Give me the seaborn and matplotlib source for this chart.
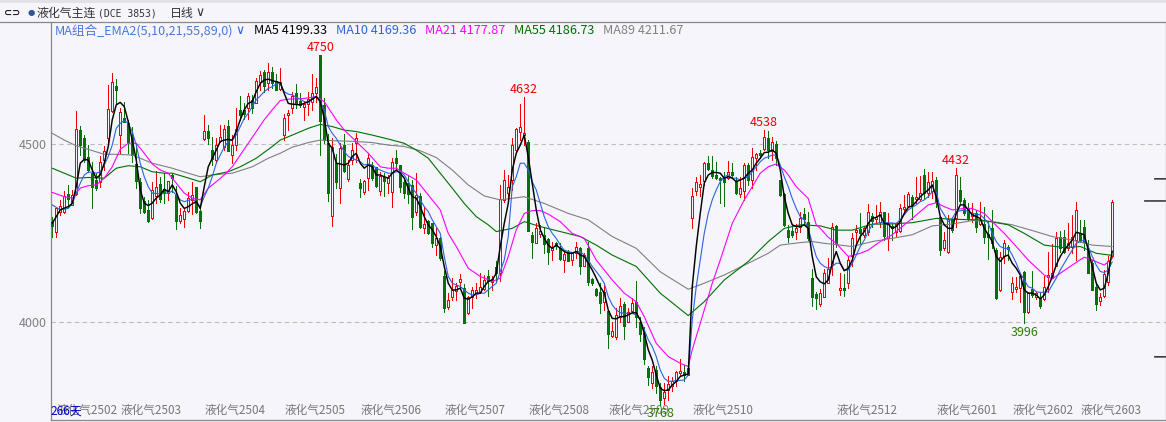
import matplotlib
matplotlib.use("Agg")
import matplotlib.pyplot as plt
import numpy as np
import seaborn as sns
from matplotlib.lines import Line2D
from matplotlib.patches import Rectangle

opens = [
    4282, 4252, 4310, 4310, 4359, 4329, 4359, 4539, 4516, 4463,
    4418, 4399, 4392, 4455, 4518, 4594, 4663, 4525, 4572, 4558,
    4525, 4444, 4392, 4340, 4315, 4291, 4354, 4387, 4373, 4363,
    4413, 4357, 4285, 4289, 4313, 4343, 4378, 4312, 4514, 4537,
    4483, 4455, 4509, 4491, 4551, 4469, 4497, 4596, 4596, 4600,
    4624, 4616, 4675, 4703, 4670, 4703, 4678, 4654, 4525, 4581,
    4600, 4642, 4622, 4603, 4612, 4619, 4642, 4750, 4610, 4502,
    4299, 4446, 4376, 4497, 4401, 4455, 4504, 4390, 4366, 4404,
    4441, 4434, 4369, 4408, 4390, 4366, 4460, 4441, 4392, 4390,
    4385, 4310, 4354, 4263, 4285, 4277, 4216, 4237, 4128, 4043,
    4070, 4088, 4111, 4095, 4025, 4070, 4081, 4085, 4092, 4129,
    4112, 4154, 4137, 4343, 4363, 4399, 4483, 4535, 4525, 4507,
    4244, 4223, 4247, 4244, 4232, 4202, 4221, 4207, 4174, 4198,
    4174, 4193, 4207, 4157, 4207, 4121, 4093, 4085, 4057, 4031,
    3961, 3959, 4015, 4051, 4001, 4032, 4057, 4001, 3968, 3870,
    3828, 3865, 3818, 3786, 3809, 3819, 3833, 3856, 3859, 3870,
    4293, 4369, 4380, 4397, 4448, 4427, 4413, 4405, 4404, 4404,
    4422, 4397, 4360, 4369, 4441, 4399, 4460, 4476, 4485, 4516,
    4479, 4500, 4399, 4359, 4258, 4257, 4254, 4268, 4302, 4280,
    4123, 4078, 4051, 4071, 4109, 4160, 4270, 4090, 4095, 4109,
    4184, 4254, 4260, 4245, 4254, 4299, 4289, 4282, 4308, 4235,
    4270, 4254, 4256, 4317, 4327, 4350, 4345, 4345, 4413, 4362,
    4369, 4399, 4294, 4209, 4198, 4288, 4291, 4371, 4343, 4319,
    4298, 4305, 4275, 4275, 4246, 4263, 4202, 4090, 4184, 4210,
    4083, 4093, 4095, 4141, 4027, 4092, 4071, 4067, 4064, 4126,
    4123, 4158, 4240, 4240, 4207, 4212, 4230, 4249, 4268, 4202,
    4165, 4098, 4059, 4073, 4113, 4185,
]
highs = [
    4296, 4320, 4343, 4368, 4385, 4371, 4593, 4551, 4525, 4497,
    4450, 4418, 4465, 4493, 4666, 4699, 4682, 4600, 4619, 4567,
    4549, 4502, 4404, 4352, 4343, 4394, 4425, 4408, 4418, 4397,
    4418, 4382, 4319, 4319, 4366, 4394, 4380, 4324, 4582, 4553,
    4519, 4516, 4552, 4553, 4568, 4525, 4600, 4635, 4614, 4642,
    4638, 4684, 4706, 4708, 4727, 4717, 4697, 4713, 4584, 4596,
    4645, 4669, 4642, 4622, 4645, 4697, 4684, 4750, 4628, 4528,
    4516, 4471, 4502, 4528, 4455, 4504, 4530, 4401, 4399, 4471,
    4450, 4436, 4422, 4418, 4413, 4460, 4483, 4441, 4399, 4413,
    4399, 4418, 4362, 4324, 4287, 4277, 4263, 4240, 4142, 4081,
    4123, 4109, 4134, 4107, 4073, 4099, 4109, 4137, 4132, 4146,
    4128, 4170, 4385, 4427, 4413, 4516, 4545, 4612, 4632, 4510,
    4254, 4277, 4272, 4266, 4235, 4226, 4226, 4221, 4198, 4201,
    4198, 4226, 4212, 4193, 4226, 4123, 4095, 4109, 4109, 4034,
    4001, 4039, 4067, 4057, 4039, 4067, 4115, 4015, 3987, 3877,
    3877, 3875, 3828, 3828, 3847, 3845, 3861, 3896, 3879, 3879,
    4376, 4408, 4413, 4450, 4465, 4466, 4450, 4408, 4422, 4453,
    4446, 4408, 4406, 4448, 4448, 4488, 4476, 4482, 4538, 4536,
    4521, 4509, 4399, 4361, 4272, 4272, 4275, 4310, 4319, 4310,
    4148, 4085, 4092, 4148, 4179, 4277, 4273, 4137, 4135, 4184,
    4249, 4273, 4305, 4268, 4332, 4305, 4329, 4338, 4308, 4305,
    4277, 4275, 4332, 4357, 4366, 4357, 4408, 4410, 4429, 4420,
    4422, 4406, 4296, 4254, 4301, 4291, 4432, 4408, 4349, 4333,
    4333, 4315, 4338, 4322, 4282, 4315, 4207, 4198, 4230, 4216,
    4126, 4126, 4128, 4144, 4085, 4144, 4085, 4085, 4128, 4198,
    4219, 4254, 4256, 4258, 4277, 4301, 4338, 4287, 4287, 4230,
    4174, 4111, 4081, 4146, 4184, 4344,
]
lows = [
    4238, 4240, 4301, 4305, 4324, 4329, 4357, 4469, 4450, 4422,
    4319, 4371, 4380, 4427, 4493, 4591, 4614, 4474, 4563, 4474,
    4450, 4376, 4305, 4305, 4282, 4289, 4334, 4338, 4334, 4343,
    4366, 4260, 4277, 4268, 4310, 4304, 4305, 4265, 4511, 4499,
    4441, 4446, 4507, 4483, 4479, 4446, 4483, 4568, 4569, 4569,
    4586, 4614, 4652, 4647, 4652, 4656, 4652, 4652, 4511, 4539,
    4586, 4600, 4605, 4568, 4582, 4596, 4619, 4469, 4502, 4341,
    4271, 4376, 4335, 4420, 4397, 4444, 4450, 4352, 4360, 4371,
    4399, 4380, 4357, 4354, 4362, 4324, 4427, 4366, 4348, 4334,
    4260, 4301, 4265, 4251, 4246, 4212, 4188, 4174, 4029, 4037,
    4062, 4062, 4095, 3998, 4023, 4039, 4067, 4081, 4090, 4073,
    4090, 4111, 4114, 4338, 4334, 4372, 4474, 4510, 4497, 4256,
    4179, 4221, 4240, 4193, 4163, 4174, 4206, 4174, 4141, 4170,
    4160, 4179, 4135, 4156, 4104, 4104, 4074, 4026, 4034, 3928,
    3959, 3952, 4001, 3952, 3999, 4029, 3987, 3947, 3882, 3823,
    3814, 3800, 3768, 3770, 3781, 3805, 3820, 3847, 3835, 3851,
    4265, 4357, 4354, 4385, 4427, 4404, 4401, 4333, 4327, 4401,
    4408, 4360, 4352, 4343, 4385, 4375, 4427, 4460, 4483, 4460,
    4455, 4441, 4355, 4270, 4224, 4238, 4232, 4254, 4273, 4230,
    4046, 4037, 4046, 4071, 4109, 4132, 4212, 4076, 4074, 4095,
    4156, 4226, 4221, 4240, 4245, 4268, 4277, 4268, 4230, 4202,
    4230, 4240, 4254, 4310, 4324, 4288, 4333, 4343, 4347, 4352,
    4347, 4324, 4188, 4202, 4195, 4254, 4268, 4333, 4301, 4287,
    4282, 4254, 4273, 4221, 4176, 4207, 4065, 4088, 4165, 4174,
    4065, 4085, 4057, 3996, 4024, 4071, 4066, 4039, 4062, 4085,
    4123, 4156, 4198, 4195, 4202, 4193, 4174, 4226, 4202, 4137,
    4090, 4034, 4048, 4071, 4104, 4183,
]
closes = [
    4271, 4320, 4326, 4354, 4345, 4357, 4541, 4497, 4455, 4427,
    4378, 4376, 4450, 4479, 4597, 4675, 4652, 4589, 4563, 4507,
    4469, 4397, 4319, 4308, 4285, 4371, 4380, 4346, 4362, 4396,
    4404, 4284, 4301, 4313, 4347, 4357, 4310, 4284, 4537, 4516,
    4458, 4496, 4521, 4541, 4481, 4497, 4541, 4582, 4584, 4635,
    4600, 4678, 4694, 4663, 4703, 4670, 4652, 4675, 4572, 4586,
    4635, 4614, 4610, 4612, 4626, 4642, 4659, 4565, 4511, 4363,
    4491, 4394, 4488, 4425, 4441, 4483, 4516, 4376, 4397, 4462,
    4404, 4382, 4411, 4397, 4404, 4449, 4446, 4380, 4363, 4359,
    4294, 4357, 4266, 4275, 4249, 4223, 4237, 4179, 4040, 4062,
    4090, 4100, 4120, 3998, 4071, 4090, 4090, 4097, 4118, 4114,
    4122, 4137, 4345, 4399, 4380, 4497, 4541, 4549, 4530, 4256,
    4226, 4263, 4257, 4219, 4198, 4212, 4213, 4176, 4191, 4170,
    4193, 4212, 4156, 4188, 4112, 4109, 4076, 4053, 4083, 3967,
    3976, 4020, 4046, 3990, 4027, 4053, 4015, 3966, 3895, 3845,
    3859, 3820, 3781, 3802, 3825, 3833, 3859, 3861, 3850, 3851,
    4354, 4392, 4388, 4448, 4430, 4410, 4404, 4400, 4394, 4420,
    4413, 4363, 4376, 4441, 4399, 4463, 4472, 4470, 4519, 4483,
    4507, 4460, 4357, 4272, 4240, 4244, 4263, 4291, 4288, 4235,
    4071, 4067, 4081, 4137, 4148, 4266, 4219, 4095, 4090, 4174,
    4235, 4258, 4249, 4265, 4310, 4284, 4296, 4310, 4242, 4279,
    4263, 4275, 4321, 4324, 4359, 4329, 4352, 4361, 4363, 4394,
    4397, 4338, 4202, 4229, 4288, 4258, 4413, 4341, 4307, 4288,
    4305, 4268, 4287, 4238, 4240, 4221, 4067, 4182, 4221, 4205,
    4109, 4097, 4128, 4029, 4081, 4076, 4081, 4046, 4097, 4132,
    4137, 4237, 4207, 4198, 4221, 4238, 4315, 4230, 4226, 4137,
    4090, 4051, 4069, 4135, 4172, 4338,
]

ma5 = [
    4277, 4296, 4315, 4320, 4324, 4333, 4380, 4446, 4457, 4455,
    4427, 4404, 4413, 4446, 4493, 4568, 4610, 4617, 4605, 4563,
    4511, 4455, 4371, 4334, 4327, 4334, 4348, 4357, 4373, 4366,
    4385, 4366, 4334, 4319, 4324, 4332, 4338, 4319, 4380, 4436,
    4460, 4483, 4507, 4511, 4513, 4511, 4535, 4568, 4596, 4614,
    4619, 4647, 4670, 4680, 4682, 4678, 4675, 4672, 4642, 4614,
    4612, 4611, 4610, 4614, 4619, 4626, 4633, 4619, 4572, 4502,
    4488, 4446, 4444, 4441, 4446, 4465, 4474, 4446, 4432, 4441,
    4436, 4413, 4413, 4408, 4404, 4418, 4427, 4418, 4404, 4376,
    4352, 4348, 4324, 4296, 4273, 4259, 4240, 4212, 4156, 4109,
    4090, 4090, 4095, 4067, 4064, 4071, 4081, 4081, 4100, 4114,
    4118, 4137, 4212, 4277, 4333, 4427, 4474, 4497, 4525, 4464,
    4390, 4315, 4259, 4235, 4216, 4207, 4216, 4207, 4198, 4193,
    4193, 4198, 4188, 4184, 4165, 4146, 4123, 4099, 4081, 4034,
    4010, 4009, 4015, 4015, 4020, 4026, 4026, 4006, 3968, 3922,
    3893, 3851, 3814, 3807, 3809, 3823, 3833, 3847, 3851, 3854,
    4099, 4212, 4305, 4390, 4413, 4420, 4420, 4418, 4404, 4408,
    4404, 4394, 4399, 4404, 4418, 4427, 4446, 4460, 4476, 4477,
    4483, 4474, 4427, 4352, 4305, 4273, 4268, 4268, 4273, 4263,
    4184, 4127, 4113, 4107, 4118, 4165, 4198, 4165, 4144, 4151,
    4174, 4216, 4240, 4254, 4277, 4291, 4294, 4301, 4277, 4275,
    4263, 4268, 4282, 4305, 4322, 4326, 4338, 4352, 4362, 4371,
    4385, 4352, 4296, 4273, 4263, 4263, 4305, 4329, 4329, 4315,
    4301, 4296, 4291, 4263, 4245, 4226, 4184, 4170, 4184, 4188,
    4165, 4151, 4132, 4090, 4081, 4081, 4076, 4065, 4076, 4099,
    4127, 4160, 4184, 4202, 4216, 4230, 4252, 4249, 4245, 4202,
    4156, 4109, 4090, 4095, 4137, 4199,
]

ma10_bars = [
    0, 2, 4, 5, 6, 7, 8, 9, 10, 11, 12, 13, 14, 15, 16, 17, 18, 19, 20, 21,
    22, 23, 24, 25, 27, 29, 30, 31, 32, 33, 35, 36, 37, 38, 39, 40, 41, 42,
    43, 44, 45, 46, 47, 48, 49, 50, 51, 52, 53, 54, 55, 56, 57, 58, 59, 60,
    61, 62, 63, 64, 65, 66, 67, 68, 69, 70, 71, 72, 73, 74, 75, 76, 77, 78,
    79, 80, 81, 82, 83, 84, 85, 86, 87, 88, 89, 90, 91, 92, 93, 94, 95, 96,
    97, 98, 99, 100, 101, 102, 103, 104, 105, 106, 107, 108, 109, 110, 111,
    112, 113, 114, 115, 116, 117, 118, 119, 120, 121, 122, 123, 124, 125,
    126, 127, 128, 129, 130, 132, 133, 134, 135, 136, 137, 138, 139, 140,
    141, 142, 144, 145, 146, 147, 148, 149, 150, 151, 152, 153, 154, 158,
    159, 160, 161, 162, 163, 164, 165, 166, 167, 168, 169, 170, 171, 172,
    173, 174, 175, 176, 177, 178, 179, 180, 181, 182, 183, 184, 185, 186,
    187, 188, 189, 190, 191, 192, 193, 194, 195, 196, 197, 198, 199, 200,
    201, 202, 203, 204, 205, 206, 207, 209, 211, 212, 213, 214, 215, 216,
    217, 218, 219, 220, 221, 222, 223, 224, 225, 226, 228, 229, 230, 232,
    233, 234, 235, 236, 237, 238, 239, 240, 241, 242, 243, 244, 245, 246,
    247, 249, 250, 251, 252, 253, 254, 255, 256, 257, 258, 259, 260, 261,
    262, 263, 264, 265,
]
ma10 = [
    4329, 4315, 4319, 4333, 4362, 4390, 4413, 4421, 4421, 4418, 4422, 4441,
    4465, 4497, 4544, 4558, 4566, 4558, 4535, 4497, 4446, 4408, 4380, 4362,
    4360, 4362, 4368, 4357, 4343, 4338, 4345, 4338, 4324, 4352, 4376, 4408,
    4446, 4469, 4491, 4507, 4511, 4525, 4549, 4572, 4586, 4605, 4624, 4635,
    4647, 4656, 4661, 4669, 4670, 4647, 4640, 4638, 4631, 4626, 4619, 4616,
    4626, 4635, 4619, 4596, 4549, 4530, 4516, 4497, 4479, 4465, 4460, 4455,
    4450, 4441, 4444, 4441, 4432, 4427, 4422, 4418, 4418, 4422, 4422, 4413,
    4394, 4376, 4362, 4343, 4324, 4310, 4287, 4268, 4249, 4184, 4128, 4109,
    4104, 4100, 4090, 4081, 4076, 4076, 4081, 4081, 4090, 4100, 4109, 4142,
    4174, 4240, 4380, 4408, 4446, 4446, 4427, 4394, 4371, 4333, 4296, 4268,
    4249, 4235, 4216, 4202, 4198, 4195, 4198, 4188, 4174, 4156, 4142, 4127,
    4109, 4071, 4048, 4034, 4026, 4024, 4024, 4020, 4006, 3978, 3950, 3931,
    3903, 3865, 3842, 3833, 3837, 3851, 4006, 4099, 4174, 4249, 4305, 4343,
    4371, 4394, 4408, 4413, 4404, 4404, 4399, 4404, 4408, 4422, 4436, 4450,
    4460, 4464, 4469, 4469, 4441, 4408, 4380, 4347, 4319, 4296, 4287, 4263,
    4221, 4184, 4165, 4156, 4151, 4156, 4165, 4165, 4146, 4146, 4165, 4188,
    4212, 4230, 4254, 4273, 4277, 4279, 4279, 4277, 4287, 4301, 4315, 4322,
    4329, 4338, 4343, 4352, 4366, 4366, 4319, 4301, 4282, 4291, 4310, 4315,
    4310, 4305, 4301, 4291, 4277, 4249, 4226, 4212, 4207, 4207, 4188, 4165,
    4137, 4118, 4099, 4095, 4085, 4083, 4085, 4104, 4123, 4146, 4165, 4184,
    4202, 4221, 4226, 4230, 4212, 4184, 4160, 4142, 4139, 4146, 4169,
]

ma21_bars = [
    0, 3, 5, 7, 9, 11, 13, 15, 17, 19, 21, 23, 25, 27, 29, 31, 33, 35, 37,
    39, 41, 43, 45, 47, 49, 51, 53, 55, 57, 59, 63, 66, 68, 71, 73, 76, 79,
    82, 84, 86, 88, 91, 94, 97, 99, 101, 104, 107, 110, 112, 114, 116, 118,
    120, 122, 124, 127, 130, 133, 136, 138, 140, 143, 146, 148, 151, 154,
    157, 159, 160, 162, 165, 167, 170, 173, 175, 177, 179, 181, 183, 184,
    186, 189, 191, 192, 194, 196, 199, 202, 204, 207, 210, 213, 215, 217,
    219, 221, 223, 225, 228, 230, 233, 235, 238, 241, 244, 248, 250, 252,
    255, 258, 260, 263, 265,
]
ma21 = [
    4364, 4352, 4348, 4376, 4383, 4385, 4404, 4436, 4485, 4502, 4502, 4474,
    4444, 4427, 4418, 4390, 4362, 4348, 4343, 4376, 4394, 4413, 4436, 4469,
    4502, 4535, 4568, 4596, 4622, 4626, 4628, 4633, 4619, 4568, 4539, 4507,
    4474, 4436, 4432, 4432, 4418, 4399, 4357, 4315, 4249, 4212, 4151, 4128,
    4114, 4123, 4184, 4259, 4305, 4313, 4313, 4303, 4282, 4249, 4235, 4174,
    4146, 4118, 4081, 4057, 4015, 3940, 3903, 3884, 3875, 3922, 3996, 4109,
    4174, 4277, 4343, 4380, 4418, 4436, 4444, 4427, 4413, 4380, 4347, 4273,
    4263, 4238, 4221, 4184, 4193, 4202, 4226, 4245, 4273, 4291, 4310, 4329,
    4335, 4324, 4315, 4319, 4319, 4305, 4282, 4249, 4212, 4174, 4132, 4121,
    4137, 4160, 4182, 4174, 4160, 4178,
]

ma55_bars = [
    0, 3, 6, 9, 13, 16, 19, 22, 25, 28, 30, 33, 37, 40, 44, 47, 51, 55, 57,
    60, 64, 67, 70, 73, 76, 80, 84, 88, 91, 94, 97, 100, 103, 106, 109, 111,
    115, 118, 122, 127, 132, 136, 140, 146, 152, 159, 163, 168, 174, 179,
    183, 187, 192, 196, 200, 205, 209, 215, 221, 227, 232, 239, 243, 248,
    253, 257, 261, 265,
]
ma55 = [
    4432, 4418, 4404, 4406, 4404, 4432, 4439, 4436, 4422, 4418, 4418, 4408,
    4394, 4413, 4422, 4436, 4460, 4493, 4511, 4525, 4544, 4555, 4549, 4539,
    4535, 4525, 4514, 4502, 4483, 4460, 4418, 4376, 4333, 4296, 4273, 4254,
    4263, 4282, 4268, 4254, 4240, 4216, 4188, 4156, 4081, 4018, 4057, 4118,
    4170, 4226, 4263, 4273, 4270, 4258, 4258, 4275, 4275, 4279, 4291, 4288,
    4287, 4273, 4249, 4216, 4209, 4212, 4193, 4187,
]

ma89_bars = [
    0, 3, 6, 9, 13, 16, 20, 25, 30, 34, 37, 40, 45, 50, 54, 57, 60, 64, 67,
    71, 76, 80, 84, 88, 92, 96, 100, 104, 108, 112, 118, 123, 129, 134, 140,
    146, 152, 159, 163, 168, 174, 179, 182, 187, 190, 193, 200, 205, 210,
    215, 220, 225, 230, 235, 240, 245, 250, 255, 260, 265,
]
ma89 = [
    4530, 4511, 4495, 4485, 4471, 4471, 4469, 4446, 4432, 4418, 4408, 4413,
    4418, 4436, 4460, 4474, 4491, 4504, 4511, 4509, 4507, 4504, 4497, 4493,
    4481, 4462, 4427, 4385, 4354, 4343, 4352, 4333, 4305, 4287, 4240, 4207,
    4141, 4092, 4109, 4132, 4165, 4193, 4216, 4223, 4226, 4221, 4212, 4226,
    4235, 4245, 4270, 4275, 4285, 4282, 4273, 4257, 4240, 4230, 4216, 4212,
]

contract_bars = [1, 17, 38, 58, 77, 98, 119, 139, 160, 182, 196, 221, 240, 257]
contract_labels = [
    "液化气2502", "液化气2503", "液化气2504", "液化气2505", "液化气2506",
    "液化气2507", "液化气2508", "液化气2509", "液化气2510", "",
    "液化气2512", "液化气2601", "液化气2602", "液化气2603",
]
peak_bars = [67, 118, 178, 226]
trough_bars = [152, 243]
side_marks = [4402, 4340, 3902]
price_ticks = [4000, 4500]

BG = "#f5f5fb"
RED = "#f00000"
GREEN = "#087008"
W, H = 1166, 422

sns.set_theme(style="white", rc={"axes.facecolor": BG, "figure.facecolor": BG})
plt.rcParams["font.family"] = ["Noto Sans CJK SC", "DejaVu Sans"]


def px(x, y):
    return x / W, 1 - y / H


fig = plt.figure(figsize=(W / 100, H / 100), dpi=100)
ax = fig.add_axes([51 / W, (H - 420) / H, (1165.5 - 51) / W, 398 / H])

opens_a, closes_a = np.array(opens), np.array(closes)
bars = np.arange(len(opens))
up = closes_a >= opens_a
edge = 0.72

ax.vlines(bars[up], np.array(lows)[up], np.array(highs)[up], color=RED, lw=edge,
          antialiased=False, zorder=2)
ax.vlines(bars[~up], np.array(lows)[~up], np.array(highs)[~up], color=GREEN, lw=edge,
          antialiased=False, zorder=2)
ax.bar(bars[up], (closes_a - opens_a)[up], bottom=opens_a[up], width=0.5, facecolor=BG,
       edgecolor=RED, lw=edge, antialiased=False, zorder=3)
ax.bar(bars[~up], (opens_a - closes_a)[~up], bottom=closes_a[~up], width=0.5, facecolor=GREEN,
       edgecolor=GREEN, lw=edge, antialiased=False, zorder=3)

sns.lineplot(x=ma89_bars, y=ma89, ax=ax, color="#808080", lw=0.8, estimator=None, zorder=4)
sns.lineplot(x=ma55_bars, y=ma55, ax=ax, color="#007000", lw=0.8, estimator=None, zorder=4)
sns.lineplot(x=ma21_bars, y=ma21, ax=ax, color="#ff00ff", lw=0.8, estimator=None, zorder=4)
sns.lineplot(x=ma10_bars, y=ma10, ax=ax, color="#2f62e0", lw=0.8, estimator=None, zorder=4)
sns.lineplot(x=bars, y=ma5, ax=ax, color="black", lw=1.05, estimator=None, zorder=5)

for p in price_ticks:
    ax.axhline(p, color="#bdbdbd", lw=0.8, ls=(0, (4, 3)), zorder=1)

# bar 0 sits just left of pixel centre 52.5 so wick and body snap together, one bar is 4 pixels
ax.set_xlim((51 - 52.25) / 4, (1165.5 - 52.25) / 4)
ax.set_ylim(4500 - 276 * 2.809, 4500 + 122 * 2.809)

ax.set_yticks(price_ticks, [str(p) for p in price_ticks], color="#808080", fontsize=9)
ax.tick_params(axis="y", length=0, pad=3)
ax.set_xticks(contract_bars, contract_labels, color="#777777", fontsize=8.4, ha="left")
ax.tick_params(axis="x", direction="in", length=6, width=0.7, color="#999999", pad=-11.5)

for side in ["left", "bottom", "right"]:
    ax.spines[side].set_color("#888888")
    ax.spines[side].set_linewidth(0.9)
ax.spines["top"].set_visible(False)

# right hand price marks
for price, reach in zip(side_marks, [11, 21, 11]):
    ax.annotate("", xy=(1, price), xycoords=("axes fraction", "data"),
                xytext=(-reach, 0), textcoords="offset pixels",
                arrowprops=dict(arrowstyle="-", color="black", lw=0.9, shrinkA=0, shrinkB=0))

# high / low flags
for b in peak_bars:
    ax.annotate(str(highs[b]), (b, highs[b]), xytext=(0, 1), textcoords="offset points",
                ha="center", va="bottom", color=RED, fontsize=9)
for b in trough_bars:
    ax.annotate(str(lows[b]), (b, lows[b]), xytext=(0, -2), textcoords="offset points",
                ha="center", va="top", color="#2e7d00", fontsize=9)

fig.text(*px(51, 411), "266天", color="#0000c8", fontsize=8.6, va="center")

# header strip
fig.add_artist(Rectangle((0, 1 - 3 / H), 1, 3 / H, transform=fig.transFigure,
                         facecolor="#e2e2e6", edgecolor="none"))
fig.add_artist(Line2D([0, 1], [1 - 22 / H] * 2, transform=fig.transFigure, color="#888888", lw=0.9))

fig.text(*px(4, 13), "⊂⊃", color="#222222", fontsize=7, va="center",
         family=["DejaVu Sans"], fontweight="bold")
fig.text(*px(28, 13), "●", color="#2f5597", fontsize=6, va="center", family=["DejaVu Sans"])
fig.text(*px(37, 13), "液化气主连", color="#333333", fontsize=8.6, va="center")
fig.text(*px(98, 13), "(DCE 3853)", color="#333333", fontsize=7, va="center",
         family=["DejaVu Sans Mono"])
fig.text(*px(170, 13), "日线", color="#333333", fontsize=8.6, va="center")
fig.text(*px(195, 13), "∨", color="#333333", fontsize=9, va="center", family=["DejaVu Sans"])

fig.text(*px(55, 31), "MA组合_EMA2(5,10,21,55,89,0)", color="#4a78e0", fontsize=9.1, va="center")
fig.text(*px(235, 31), "∨", color="#2f62e0", fontsize=9, va="center", family=["DejaVu Sans"])
fig.text(*px(254, 31), "MA5 4199.33", color="black", fontsize=9.1, va="center")
fig.text(*px(336, 31), "MA10 4169.36", color="#2f62e0", fontsize=9.1, va="center")
fig.text(*px(425, 31), "MA21 4177.87", color="#ff00ff", fontsize=9.1, va="center")
fig.text(*px(514, 31), "MA55 4186.73", color="#007000", fontsize=9.1, va="center")
fig.text(*px(603, 31), "MA89 4211.67", color="#808080", fontsize=9.1, va="center")

fig.savefig("out.png", dpi=100, facecolor=BG)
